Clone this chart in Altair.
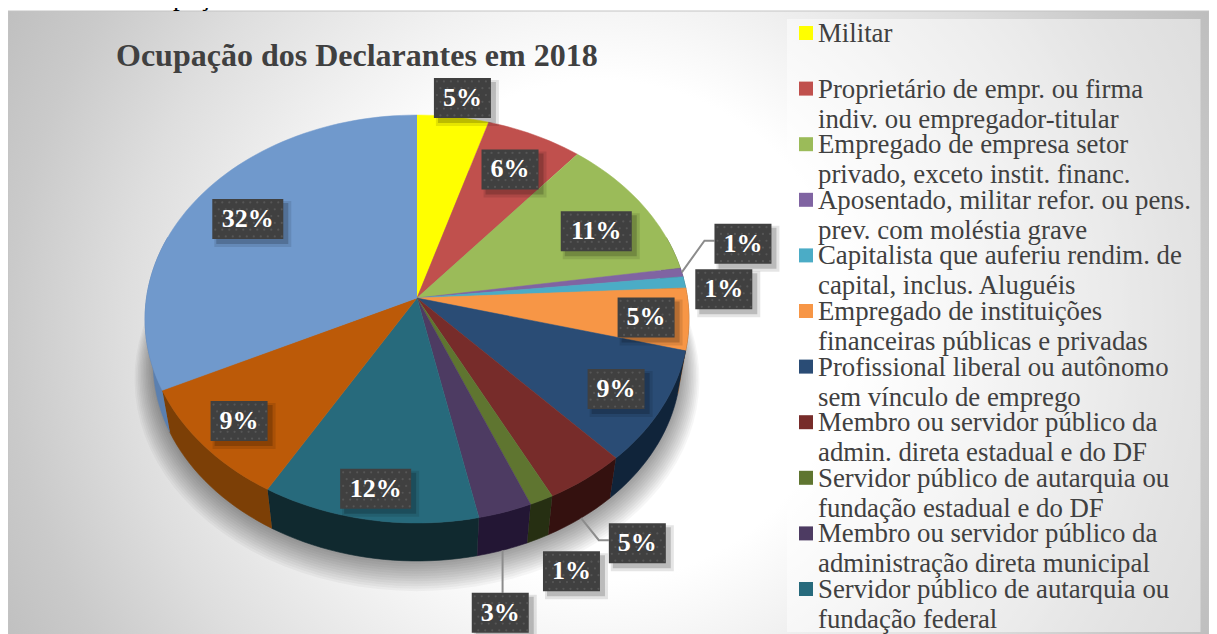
import math
import altair as alt
import pandas as pd

# ---------- data ----------
categories = [
    "Militar",
    "Proprietário de empr. ou firma\nindiv. ou empregador-titular",
    "Empregado de empresa setor\nprivado, exceto instit. financ.",
    "Aposentado, militar refor. ou pens.\nprev. com moléstia grave",
    "Capitalista que auferiu rendim. de\ncapital, inclus. Aluguéis",
    "Empregado de instituições\nfinanceiras públicas e privadas",
    "Profissional liberal ou autônomo\nsem vínculo de emprego",
    "Membro ou servidor público da\nadmin. direta estadual e do DF",
    "Servidor público de autarquia ou\nfundação estadual e do DF",
    "Membro ou servidor público da\nadministração direta municipal",
    "Servidor público de autarquia ou\nfundação federal",
    "Outras ocupações (a)",
    "Outras ocupações (b)",
]
values = [4.7, 6.35, 11.55, 0.7, 0.9, 4.9, 9.0, 4.4, 1.3, 2.9, 11.7, 9.4, 32.2]
labels = ["5%", "6%", "11%", "1%", "1%", "5%", "9%", "5%", "1%", "3%", "12%", "9%", "32%"]
legend_count = 11

top_colors = ["#FFFF00", "#C0504D", "#9BBB59", "#8064A2", "#4BACC6", "#F79646", "#2A4C75",
              "#772C2A", "#5F7530", "#4D3B62", "#276A7C", "#BC5A08", "#7099CC"]
wall_colors = ["#8a8a00", "#6a2a28", "#55673a", "#46375a", "#2a5f6d", "#884f20", "#10243a",
               "#34110f", "#262f12", "#231634", "#10292f", "#7c3f06", "#5b80b0"]

# where each value label sits: shift along the circle (in % of the pie) and distance from the centre
label_shift = [0.32, 0, 0.8, -1.45, 0.65, 0.15, 0.15, 0.3, 0.5, 1.65, 0, 0, 0]
label_reach = [1.12, 0.775, 0.767, 1.27, 1.14, 0.844, 0.825, 1.30, 1.29, 1.37, 0.873, 0.844, 0.769]
label_leader = ["", "", "", "side", "", "", "", "side", "", "top", "", "", ""]

chart_title = "Ocupação dos Declarantes em 2018"
caption = "Gráfico 5: Ocupação dos declarantes do ano de 2018."

# ---------- tilted pie geometry ----------
CX, CY = 417, 298
A, B, K = 270.5, 201.8, 0.103
BOTTOM_SCALE, BOTTOM_DY = 0.97, 44.75


def top_point(pct, reach=1.0):
    t = math.radians(pct * 3.6)
    u, v = reach * math.sin(t), -reach * math.cos(t)
    d = 1 - K * v
    return CX + A * u / d, CY + B * v / d


def bottom_point(pct, reach=1.0):
    x, y = top_point(pct, reach)
    return CX + BOTTOM_SCALE * (x - CX), CY + BOTTOM_DY + BOTTOM_SCALE * (y - CY)


def arc(start, end, n_per_pct=2):
    n = max(2, int((end - start) * n_per_pct) + 1)
    return [start + (end - start) * i / (n - 1) for i in range(n)]


edges = [0]
for val in values:
    edges.append(edges[-1] + val)

tops, walls, shadows = [], [], []
for s, (cat, start, end) in enumerate(zip(categories, edges[:-1], edges[1:])):
    poly = [(CX, CY)] + [top_point(p) for p in arc(start, end)]
    for i, (x, y) in enumerate(poly):
        tops.append(dict(slice=cat, i=i, x=x, y=y))
    # only the part of the wall that faces the viewer
    ws, we = max(start, 20.0), min(end, 80.0)
    if we > ws:
        pts = arc(ws, we)
        poly = [top_point(p) for p in pts] + [bottom_point(p) for p in reversed(pts)]
        for i, (x, y) in enumerate(poly):
            walls.append(dict(slice=cat, color=wall_colors[s], i=i, x=x, y=y))
tops = pd.DataFrame(tops)
walls = pd.DataFrame(walls)

for k in range(12):
    grow = 1.07 - 0.006 * k
    dy = 13 - k
    for i, p in enumerate(arc(0, 100, 1)):
        x, y = bottom_point(p, grow)
        shadows.append(dict(layer=k, i=i, x=x, y=y + dy))
shadows = pd.DataFrame(shadows)

H2 = 20
boxes, dots, leaders = [], [], []
for s, lab in enumerate(labels):
    W2 = 35.5 if len(lab) > 2 else 28.5
    mid = (edges[s] + edges[s + 1]) / 2
    lx, ly = top_point(mid + label_shift[s], label_reach[s])
    boxes.append(dict(label=lab, x=lx, y=ly, x1=lx - W2, x2=lx + W2, y1=ly - H2, y2=ly + H2,
                      sx1=lx - W2 + 4, sx2=lx + W2 + 5, sy1=ly - H2 + 4, sy2=ly + H2 + 5,
                      tx1=lx - W2 + 2, tx2=lx + W2 + 8, ty1=ly - H2 + 2, ty2=ly + H2 + 8))
    for r in range(6):
        for c in range(int(2 * W2 // 7)):
            dots.append(dict(x=lx - W2 + 3 + c * 7 + (r % 2) * 3.5, y=ly - H2 + 3.5 + r * 6.8))
    if label_leader[s] == "side":
        rim = top_point(mid) if mid < 30 else bottom_point(mid)
        path = [rim, (lx - W2 - 10, ly - 3), (lx - W2, ly - 3)]
    elif label_leader[s] == "top":
        rim = bottom_point(mid)
        path = [rim, (rim[0], ly - H2)]
    else:
        path = []
    for i, (x, y) in enumerate(path):
        leaders.append(dict(leader=s, i=i, x=x, y=y))
boxes = pd.DataFrame(boxes)
dots = pd.DataFrame(dots)
leaders = pd.DataFrame(leaders)

legend_df = pd.DataFrame({
    "name": categories[:legend_count],
    "swatch": top_colors[:legend_count],
    "row": list(range(legend_count)),
})
legend_df["sy"] = 33 + 55.6 * legend_df["row"]
legend_df["ty"] = legend_df["sy"] + 9
legend_df["sx"] = 806
legend_df["tx"] = 818

# ---------- shared scales (page pixels) ----------
xs = alt.Scale(domain=[8, 1209], nice=False, zero=False)
ys = alt.Scale(domain=[634, 8], nice=False, zero=False)
X = alt.X("x:Q", scale=xs, axis=None)
Y = alt.Y("y:Q", scale=ys, axis=None)
serif = "Liberation Serif"

# the frame is a square running past the lower edge so that the radial gradient stays round
gradient = alt.RadialGradient(
    gradient="radial", x1=0.493, y1=0.266, x2=0.493, y2=0.266, r1=0, r2=0.583,
    stops=[alt.GradientStop(offset=0, color="#ffffff"),
           alt.GradientStop(offset=0.357, color="#ffffff"),
           alt.GradientStop(offset=0.679, color="#dedede"),
           alt.GradientStop(offset=0.843, color="#cacaca"),
           alt.GradientStop(offset=1, color="#bcbcbc")],
)
frame = alt.Chart(pd.DataFrame({"x": [8], "x2": [1209], "y": [11], "y2": [1212]})).mark_rect(
    fill=gradient, stroke="#c4c4c4", strokeWidth=1
).encode(x=X, x2="x2:Q", y=Y, y2="y2:Q")
legend_panel = alt.Chart(pd.DataFrame({"x": [787], "x2": [1200.5], "y": [19], "y2": [632]})).mark_rect(
    fill="#ffffff", opacity=0.48
).encode(x=X, x2="x2:Q", y=Y, y2="y2:Q")

cap = alt.Chart(pd.DataFrame({"x": [11], "y": [5], "t": [caption]})).mark_text(
    font=serif, fontSize=27, align="left", baseline="alphabetic", color="#000000"
).encode(x=X, y=Y, text="t:N")

title = alt.Chart(pd.DataFrame({"x": [116], "y": [66], "t": [chart_title]})).mark_text(
    font=serif, fontSize=32, fontWeight="bold", align="left", baseline="alphabetic", color="#404040"
).encode(x=X, y=Y, text="t:N")

shadow = alt.Chart(shadows).mark_line(fill="#000000", fillOpacity=0.036, strokeWidth=0).encode(
    x=X, y=Y, order="i:Q", detail="layer:N"
)
wall = alt.Chart(walls).mark_line(strokeWidth=0.6).encode(
    x=X, y=Y, order="i:Q",
    fill=alt.Fill("color:N", scale=None),
    stroke=alt.Stroke("color:N", scale=None),
)
slice_scale = alt.Scale(domain=categories, range=top_colors)
pie = alt.Chart(tops).mark_line(strokeWidth=0.5).encode(
    x=X, y=Y, order="i:Q",
    fill=alt.Fill("slice:N", scale=slice_scale, legend=None),
    stroke=alt.Stroke("slice:N", scale=slice_scale, legend=None),
)
leader = alt.Chart(leaders).mark_line(color="#8c8c8c", strokeWidth=2).encode(
    x=X, y=Y, order="i:Q", detail="leader:N"
)
box_base = alt.Chart(boxes)
box_halo = box_base.mark_rect(fill="#000000", opacity=0.1).encode(
    x=alt.X("tx1:Q", scale=xs, axis=None), x2="tx2:Q",
    y=alt.Y("ty1:Q", scale=ys, axis=None), y2="ty2:Q")
box_shade = box_base.mark_rect(fill="#000000", opacity=0.18).encode(
    x=alt.X("sx1:Q", scale=xs, axis=None), x2="sx2:Q",
    y=alt.Y("sy1:Q", scale=ys, axis=None), y2="sy2:Q")
box = box_base.mark_rect(fill="#404040").encode(
    x=alt.X("x1:Q", scale=xs, axis=None), x2="x2:Q",
    y=alt.Y("y1:Q", scale=ys, axis=None), y2="y2:Q")
dot = alt.Chart(dots).mark_circle(color="#565656", size=5, opacity=1).encode(x=X, y=Y)
box_text = box_base.mark_text(
    font=serif, fontSize=26, fontWeight="bold", color="#ffffff", align="center", baseline="middle"
).encode(x=X, y=Y, text="label:N")

swatch = alt.Chart(legend_df).mark_square(size=196, opacity=1).encode(
    x=alt.X("sx:Q", scale=xs, axis=None),
    y=alt.Y("sy:Q", scale=ys, axis=None),
    fill=alt.Fill("swatch:N", scale=None),
)
legend_text = alt.Chart(legend_df).mark_text(
    font=serif, fontSize=26.8, color="#404040", align="left", baseline="alphabetic",
    lineBreak="\n", lineHeight=30,
).encode(
    x=alt.X("tx:Q", scale=xs, axis=None),
    y=alt.Y("ty:Q", scale=ys, axis=None),
    text="name:N",
)

chart = alt.layer(
    frame, legend_panel, cap, title, shadow, wall, pie, leader,
    box_halo, box_shade, box, dot, box_text, swatch, legend_text,
).properties(
    width=1201, height=626, padding=0,
    autosize=alt.AutoSizeParams(type="none"),
).configure_view(stroke=None)

chart.save("out.html", embed_options={"renderer": "svg", "actions": False})
